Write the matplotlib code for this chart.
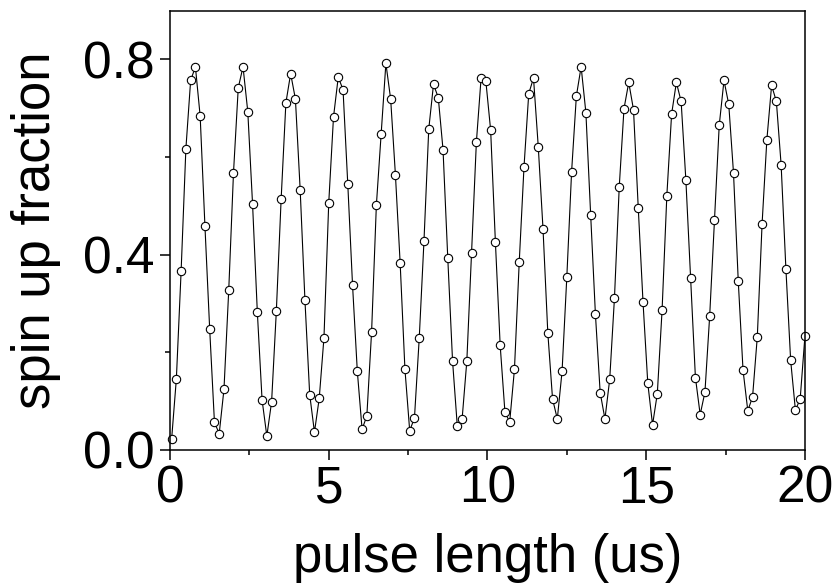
import numpy as np
import matplotlib
matplotlib.use("Agg")
import matplotlib.pyplot as plt
from matplotlib.ticker import MultipleLocator

plt.rcParams["font.family"] = ["Liberation Sans", "DejaVu Sans"]

# pulse length (us), 0.15 us steps starting at 0.05
pulse_start = 0.05
pulse_step = 0.15
spin_up = [
    0.021, 0.145, 0.366, 0.617, 0.757, 0.785, 0.684, 0.459, 0.247, 0.056,
    0.033, 0.124, 0.327, 0.568, 0.742, 0.785, 0.693, 0.504, 0.283, 0.102,
    0.028, 0.098, 0.285, 0.513, 0.711, 0.771, 0.719, 0.533, 0.307, 0.113,
    0.036, 0.105, 0.230, 0.506, 0.682, 0.764, 0.738, 0.544, 0.337, 0.161,
    0.042, 0.069, 0.242, 0.501, 0.648, 0.792, 0.719, 0.564, 0.382, 0.165,
    0.039, 0.065, 0.228, 0.428, 0.657, 0.749, 0.722, 0.615, 0.392, 0.182,
    0.048, 0.062, 0.182, 0.404, 0.630, 0.763, 0.755, 0.655, 0.425, 0.214,
    0.077, 0.057, 0.165, 0.384, 0.579, 0.730, 0.762, 0.621, 0.452, 0.240,
    0.104, 0.063, 0.161, 0.355, 0.570, 0.725, 0.785, 0.691, 0.482, 0.278,
    0.117, 0.063, 0.144, 0.311, 0.538, 0.699, 0.753, 0.697, 0.495, 0.302,
    0.136, 0.051, 0.115, 0.286, 0.521, 0.688, 0.753, 0.714, 0.552, 0.352,
    0.148, 0.072, 0.118, 0.275, 0.470, 0.665, 0.757, 0.708, 0.567, 0.345,
    0.163, 0.080, 0.108, 0.232, 0.463, 0.635, 0.747, 0.714, 0.584, 0.371,
    0.183, 0.081, 0.104, 0.233,
]
pulse = pulse_start + pulse_step * np.arange(len(spin_up))

fig = plt.figure(figsize=(8.35, 5.85), dpi=100)
ax = fig.add_axes([0.2036, 0.2313, 0.7604, 0.7504])

ax.plot(pulse, spin_up, color="black", lw=0.8, marker="o", ms=6,
        mfc="white", mec="black", mew=0.8, clip_on=False)

ax.set_xlim(0, 20)
ax.set_ylim(0, 0.9)
ax.xaxis.set_major_locator(MultipleLocator(5))
ax.xaxis.set_minor_locator(MultipleLocator(2.5))
ax.yaxis.set_minor_locator(MultipleLocator(0.2))
ax.set_yticks([0.0, 0.4, 0.8])
ax.set_yticklabels(["0.0", "0.4", "0.8"])

ax.tick_params(which="major", direction="out", length=7, width=1.1,
               labelsize=37, pad=4)
ax.tick_params(which="minor", direction="out", length=3.5, width=1.1)
for s in ax.spines.values():
    s.set_linewidth(1.1)

ax.set_xlabel("pulse length (us)", fontsize=38)
ax.set_ylabel("spin up fraction", fontsize=38)
ax.xaxis.set_label_coords(0.5, -0.19)
ax.yaxis.set_label_coords(-0.172, 0.5)

fig.savefig("out.png", dpi=100)
